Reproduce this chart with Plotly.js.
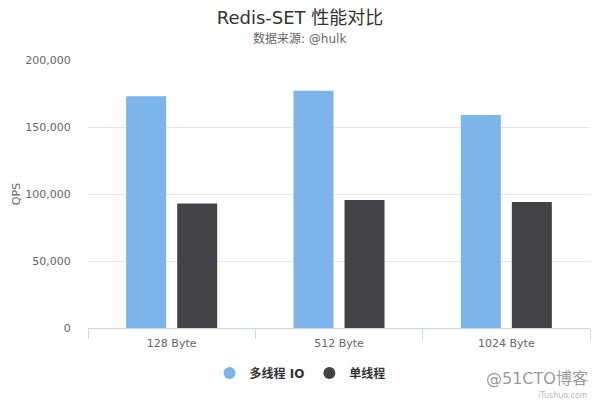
<!DOCTYPE html>
<html>
<head>
<meta charset="utf-8">
<script src="https://cdn.plot.ly/plotly-3.0.1.min.js"></script>
<style>html,body{margin:0;padding:0;background:#fff}#chart{width:600px;height:400px}</style>
</head>
<body>
<div id="chart"></div>
<script>
const categories = ["128 Byte", "512 Byte", "1024 Byte"];
const seriesNames = ["多线程 IO", "单线程"];
const multiThreadIO = [173000, 177000, 159000];
const singleThread = [93000, 95500, 94000];
const yTicks = [0, 50000, 100000, 150000, 200000];

const colors = ["#7cb5ec", "#434348"];
const font = "DejaVu Sans, Noto Sans CJK SC, sans-serif";

const traces = [
  {type: "bar", x: categories, y: multiThreadIO, name: seriesNames[0], marker: {color: colors[0]}, showlegend: false, hoverinfo: "none"},
  {type: "bar", x: categories, y: singleThread, name: seriesNames[1], marker: {color: colors[1]}, showlegend: false, hoverinfo: "none"},
  {type: "scatter", mode: "markers", x: [null], y: [null], name: "<b>" + seriesNames[0] + "</b>", marker: {color: colors[0], size: 12, symbol: "circle"}},
  {type: "scatter", mode: "markers", x: [null], y: [null], name: "<b>" + seriesNames[1] + "</b>", marker: {color: colors[1], size: 12, symbol: "circle"}}
];

const layout = {
  width: 600, height: 400,
  margin: {l: 88, r: 10, t: 60, b: 72},
  paper_bgcolor: "#fff", plot_bgcolor: "#fff",
  font: {family: font, color: "#666", size: 11},
  title: {text: "Redis-SET 性能对比", x: 0.5, xref: "container", xanchor: "center", y: 0.955, yref: "container", yanchor: "middle", font: {size: 18, color: "#333", family: font}},
  barmode: "group",
  bargap: 0.39,
  bargroupgap: 0.216,
  xaxis: {
    type: "category",
    tickson: "boundaries",
    ticks: "outside", ticklen: 10, tickcolor: "#ccd6eb", tickwidth: 1,
    ticklabelstandoff: 5,
    tickangle: 0,
    showline: true, linecolor: "#ccd6eb", linewidth: 1,
    showgrid: false,
    tickfont: {size: 11, color: "#666"},
    automargin: false,
    fixedrange: true
  },
  yaxis: {
    range: [0, 200000],
    tickvals: yTicks,
    tickformat: ",d",
    ticks: "outside", ticklen: 14, tickcolor: "rgba(0,0,0,0)",
    showgrid: true, gridcolor: "#e6e6e6", gridwidth: 1,
    zeroline: false, showline: false,
    tickfont: {size: 11, color: "#666"},
    title: {text: "QPS", font: {size: 11, color: "#666"}},
    automargin: false,
    fixedrange: true
  },
  legend: {
    orientation: "h", x: 0.4223, xanchor: "center", y: -0.168, yanchor: "middle",
    font: {size: 12, color: "#333"},
    itemsizing: "constant"
  },
  annotations: [
    {text: "数据来源: @hulk", xref: "paper", yref: "paper", x: 0.4223, y: 1.079, xanchor: "center", yanchor: "middle", showarrow: false, font: {size: 12, color: "#666"}},
    {text: "@51CTO博客", xref: "paper", yref: "paper", x: 1.0, y: -0.19, xanchor: "right", yanchor: "middle", showarrow: false, font: {size: 16, color: "rgba(120,120,120,0.75)"}},
    {text: "iTushuo.com", xref: "paper", yref: "paper", x: 1.0, y: -0.252, xanchor: "right", yanchor: "middle", showarrow: false, font: {size: 8, color: "rgba(150,150,150,0.7)"}}
  ]
};

Plotly.newPlot("chart", traces, layout, {displayModeBar: false, staticPlot: true});
</script>
</body>
</html>
